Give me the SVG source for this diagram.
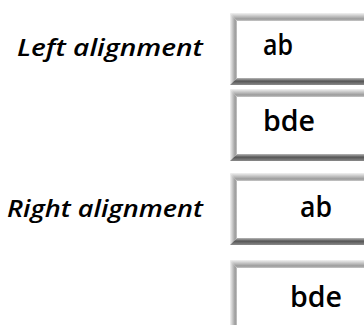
<svg xmlns="http://www.w3.org/2000/svg" width="364" height="325" viewBox="0 0 364 325">
  <defs>
    <linearGradient id="gTop" x1="0" y1="0" x2="0" y2="1">
      <stop offset="0" stop-color="#f2f2f2"/>
      <stop offset="0.75" stop-color="#9a9a9a"/>
      <stop offset="1" stop-color="#c8c8c8"/>
    </linearGradient>
    <linearGradient id="gLeft" x1="0" y1="0" x2="1" y2="0">
      <stop offset="0" stop-color="#f2f2f2"/>
      <stop offset="0.75" stop-color="#9a9a9a"/>
      <stop offset="1" stop-color="#c8c8c8"/>
    </linearGradient>
    <linearGradient id="gBot" x1="0" y1="0" x2="0" y2="1">
      <stop offset="0" stop-color="#b8b8b8"/>
      <stop offset="0.45" stop-color="#555555"/>
      <stop offset="1" stop-color="#8a8a8a"/>
    </linearGradient>
  </defs>
  <style>
    .top { fill: url(#gTop); }
    .left { fill: url(#gLeft); }
    .bot { fill: url(#gBot); }
    .inner { fill: #ffffff; }
    .lbl { font-family: "Open Sans", "DejaVu Sans", sans-serif; font-style: italic; font-weight: 600; font-size: 23px; fill: #000; }
    .txt { font-family: "Open Sans", "DejaVu Sans", sans-serif; font-weight: 600; font-size: 28px; fill: #000; }
  </style>
  <rect width="364" height="325" fill="#ffffff"/>

  <g id="label-left">
    <text class="lbl" x="203" y="56" text-anchor="end" textLength="186" lengthAdjust="spacingAndGlyphs">Left alignment</text>
  </g>
  <g id="label-right">
    <text class="lbl" x="203" y="217" text-anchor="end" textLength="196" lengthAdjust="spacingAndGlyphs">Right alignment</text>
  </g>

  <g id="box1" transform="translate(230,13)">
    <rect class="inner" x="7" y="8" width="127" height="57"/>
    <polygon class="top" points="0,0 134,0 134,8 7,8"/>
    <polygon class="left" points="0,0 7,8 7,65 0,72"/>
    <polygon class="bot" points="0,72 7,65 134,65 134,72"/>
    <text class="txt" x="33" y="42" textLength="30" lengthAdjust="spacingAndGlyphs">ab</text>
  </g>

  <g id="box2" transform="translate(230,89)">
    <rect class="inner" x="7" y="8" width="127" height="57"/>
    <polygon class="top" points="0,0 134,0 134,8 7,8"/>
    <polygon class="left" points="0,0 7,8 7,65 0,72"/>
    <polygon class="bot" points="0,72 7,65 134,65 134,72"/>
    <text class="txt" x="33" y="42" textLength="52" lengthAdjust="spacingAndGlyphs">bde</text>
  </g>

  <g id="box3" transform="translate(230,173)">
    <rect class="inner" x="7" y="8" width="127" height="57"/>
    <polygon class="top" points="0,0 134,0 134,8 7,8"/>
    <polygon class="left" points="0,0 7,8 7,65 0,72"/>
    <polygon class="bot" points="0,72 7,65 134,65 134,72"/>
    <text class="txt" x="102" y="44" text-anchor="end" textLength="32" lengthAdjust="spacingAndGlyphs">ab</text>
  </g>

  <g id="box4" transform="translate(230,260)">
    <rect class="inner" x="7" y="8" width="127" height="57"/>
    <polygon class="top" points="0,0 134,0 134,8 7,8"/>
    <polygon class="left" points="0,0 7,8 7,65 0,72"/>
    <text class="txt" x="112" y="47" text-anchor="end" textLength="52" lengthAdjust="spacingAndGlyphs">bde</text>
  </g>
</svg>
